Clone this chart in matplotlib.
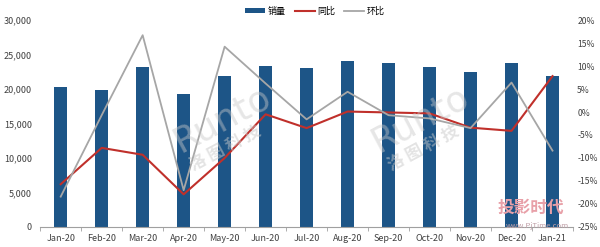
import numpy as np
import matplotlib
matplotlib.use('Agg')
import matplotlib.pyplot as plt
from matplotlib.ticker import FuncFormatter

plt.rcParams['font.family'] = ['Noto Sans CJK SC', 'DejaVu Sans']

months = ['Jan-20', 'Feb-20', 'Mar-20', 'Apr-20', 'May-20', 'Jun-20', 'Jul-20',
          'Aug-20', 'Sep-20', 'Oct-20', 'Nov-20', 'Dec-20', 'Jan-21']
sales = [20250, 19900, 23230, 19230, 21880, 23330, 23000,
         24060, 23720, 23230, 22460, 23810, 21880]
yoy = [-15.7, -7.8, -9.3, -17.9, -10.0, -0.5, -3.5,
       0.1, -0.1, -0.3, -3.4, -4.1, 7.8]
mom = [-18.4, -0.7, 16.7, -17.0, 14.2, 6.2, -1.6,
       4.4, -0.7, -1.4, -3.5, 6.4, -8.4]

blue = '#1d5587'
red = '#c0302b'
gray = '#a6a6a6'

fig = plt.figure(figsize=(6, 2.47), dpi=100)
ax = fig.add_axes([0.067, 0.081, 0.888, 0.838])
x = np.arange(len(months))

ax.bar(x, sales, width=0.33, color=blue, label='销量', zorder=2)
ax.set_xlim(-0.5, len(months) - 0.5)
ax.set_ylim(0, 30000)
ax.set_yticks(range(0, 30001, 5000))
ax.yaxis.set_major_formatter(FuncFormatter(lambda v, p: '{:,}'.format(int(v))))
ax.set_xticks(x)
ax.set_xticklabels(months)
ax.set_xticks(np.arange(-0.5, len(months)), minor=True)
ax.tick_params(axis='x', which='major', length=0, labelsize=6.5, colors='#404040', pad=5)
ax.tick_params(axis='x', which='minor', length=3, color='#a0a0a0')
ax.tick_params(axis='y', length=0, labelsize=6.5, colors='#404040', pad=6)
for s in ['top', 'left', 'right']:
    ax.spines[s].set_visible(False)
ax.spines['bottom'].set_color('#a0a0a0')

ax2 = ax.twinx()
ax2.plot(x, yoy, color=red, lw=1.5, label='同比', zorder=3)
ax2.plot(x, mom, color=gray, lw=1.3, label='环比', zorder=4)
ax2.set_ylim(-25, 20)
ax2.set_yticks(range(-25, 21, 5))
ax2.yaxis.set_major_formatter(FuncFormatter(lambda v, p: '%d%%' % v))
ax2.tick_params(axis='y', length=0, labelsize=6.2, colors='#404040', pad=3)
for s in ['top', 'left', 'right', 'bottom']:
    ax2.spines[s].set_visible(False)

h1, l1 = ax.get_legend_handles_labels()
h2, l2 = ax2.get_legend_handles_labels()
fig.legend(h1 + h2, l1 + l2, loc='center', bbox_to_anchor=(0.525, 0.955), ncol=3,
           frameon=False, fontsize=6.5, handlelength=2.2, handleheight=0.4,
           columnspacing=1.0, handletextpad=0.3)

# watermarks
for wx in [0.37, 0.7]:
    fig.text(wx, 0.52, 'Runto', fontsize=26, color='#c8c8c8', alpha=0.45,
             rotation=28, ha='center', va='center', family='DejaVu Sans')
    fig.text(wx + 0.005, 0.4, '洛 图 科 技', fontsize=12, color='#c8c8c8', alpha=0.5,
             rotation=28, ha='center', va='center', fontweight='bold')
fig.text(0.885, 0.16, '投影时代', fontsize=12, color='#e8a0a8', ha='center', va='center',
         fontweight='bold')
fig.text(0.895, 0.085, 'www.PjTime.com', fontsize=5.5, color='#c0a0a8', ha='center', va='center')

fig.savefig('out.png', dpi=100)
